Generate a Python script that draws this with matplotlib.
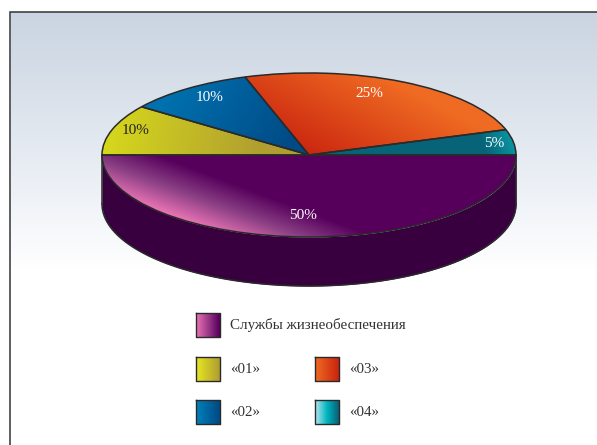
#!/usr/bin/python
import numpy as np
import matplotlib
matplotlib.use("Agg")
import matplotlib.pyplot as plt
from matplotlib.colors import LinearSegmentedColormap

plt.rcParams['font.family'] = ['Liberation Serif', 'DejaVu Serif']

#values, counterclockwise starting from the left edge of the pie
names = ["Службы жизнеобеспечения", "«04»", "«03»", "«02»", "«01»"]
shares = [50, 5, 25, 10, 10]
pct_labels = ["50%", "5%", "25%", "10%", "10%"]
label_colors = ["white", "white", "white", "white", "#222222"]
label_pos = [(303, 215), (494, 143), (369, 93), (210, 97), (136, 130)]

#gradient of each slice: start point, end point, colours (figure pixels)
wedge_grad = [
    ((163, 157), (145, 205), ["#56005c", "#8a3f84", "#e873b4"]),
    ((485, 152), (516, 140), ["#066378", "#0a9aa6"]),
    ((300, 155), (350, 60), ["#c9240f", "#ef6a22"]),
    ((180, 80), (290, 150), ["#0070ae", "#004a85"]),
    ((105, 140), (260, 165), ["#d6d81c", "#b09e30"]),
]
#legend swatches: left, top, colours
swatch_x = [196, 315, 315, 196, 196]
swatch_y = [313, 400, 357, 400, 357]
swatch_cols = [
    ["#e873b4", "#56005c"],
    ["#b5e6ee", "#00b5c0", "#066378"],
    ["#f06a22", "#c9240f"],
    ["#0080bb", "#004a85"],
    ["#e6e622", "#b09e30"],
]

W, H = 597, 445
cx, cy, rx, ry, depth = 309, 155, 207, 82, 49
gridx, gridy = np.meshgrid(np.arange(W) + 0.5, np.arange(H) + 0.5)

fig = plt.figure(figsize=(W / 100, H / 100), dpi=100)

#back axes in pixel coordinates: background, frame, legend
bg = fig.add_axes([0, 0, 1, 1], zorder=0)
bg.set_xlim(0, W)
bg.set_ylim(H, 0)
bg.axis("off")

stops = [(0, "#cad5e1"), (0.25, "#d6dee8"), (0.7, "#eef2f7"), (1, "#ffffff")]
bgmap = LinearSegmentedColormap.from_list("bg", stops)
bg.imshow(np.linspace(0, 1, 260)[:, None], cmap=bgmap, extent=(11, W, 272, 12),
          aspect="auto", vmin=0, vmax=1, zorder=0)
bg.plot([10, 10, W], [H, 11.5, 11.5], color="#333333", lw=1.1, zorder=1,
        solid_joinstyle="miter")
bg.set_xlim(0, W)
bg.set_ylim(H, 0)

#legend
for i in range(len(names)):
    cmap = LinearSegmentedColormap.from_list("sw", swatch_cols[i])
    x0, y0 = swatch_x[i], swatch_y[i]
    bg.imshow(np.linspace(0, 1, 24)[None, :], cmap=cmap, aspect="auto",
              extent=(x0, x0 + 24, y0 + 24, y0), zorder=2)
    bg.plot([x0, x0 + 24, x0 + 24, x0, x0], [y0, y0, y0 + 24, y0 + 24, y0],
            color="#2a2a2a", lw=1, zorder=3)
    bg.text(x0 + 34, y0 + 12.5, names[i], fontsize=10.8, color="#333333",
            va="center", ha="left")
bg.set_xlim(0, W)
bg.set_ylim(H, 0)

#pie axes, unit circle stretched to the ellipse
ax = fig.add_axes([0, 0, 1, 1], zorder=1)
ax.patch.set_visible(False)
wedges, _ = ax.pie(shares, startangle=180, counterclock=True,
                   wedgeprops=dict(edgecolor="#2a2a2a", linewidth=1.1))
ax.set_aspect("auto")
xlim = ((0 - cx) / rx, (W - cx) / rx)
ylim = ((cy - H) / ry, cy / ry)
ax.axis("off")

#side of the cylinder
t = np.linspace(np.pi, 2 * np.pi, 200)
d = depth / ry
ax.fill_between(np.cos(t), np.sin(t), np.sin(t) - d, color="#38003f", lw=0, zorder=0)
ax.plot(np.cos(t), np.sin(t) - d, color="#2a2a2a", lw=1.1, zorder=0.5)
ax.plot([-1, -1], [0, -d], color="#2a2a2a", lw=1.1, zorder=0.5)
ax.plot([1, 1], [0, -d], color="#2a2a2a", lw=1.1, zorder=0.5)

#gradient fill of each slice, clipped to its wedge
for w, (p0, p1, cols) in zip(wedges, wedge_grad):
    vx, vy = p1[0] - p0[0], p1[1] - p0[1]
    s = ((gridx - p0[0]) * vx + (gridy - p0[1]) * vy) / (vx * vx + vy * vy)
    cmap = LinearSegmentedColormap.from_list("g", cols)
    im = ax.imshow(np.clip(s, 0, 1), cmap=cmap, vmin=0, vmax=1, aspect="auto",
                   extent=(xlim[0], xlim[1], ylim[0], ylim[1]), origin="upper",
                   zorder=1, interpolation="bilinear")
    im.set_clip_path(w)
    w.set_facecolor("none")
    w.set_zorder(2)

ax.set_xlim(xlim)
ax.set_ylim(ylim)

for lab, col, (lx, ly) in zip(pct_labels, label_colors, label_pos):
    ax.text((lx - cx) / rx, (cy - ly) / ry, lab, color=col, fontsize=11,
            ha="center", va="center", zorder=3)

fig.savefig("out.png", dpi=100)
plt.close()
